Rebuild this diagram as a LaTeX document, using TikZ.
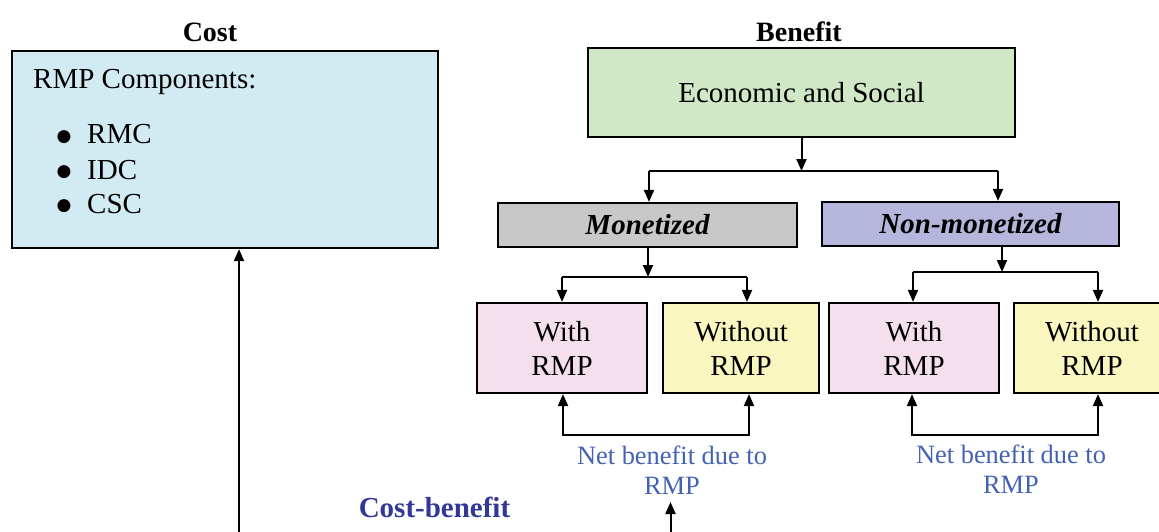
\documentclass[tikz,border=0pt]{standalone}
\usepackage{fontspec}
\setmainfont{Liberation Serif}
\newfontfamily\dejavu{DejaVu Sans}
\usetikzlibrary{arrows.meta}
\definecolor{costfill}{RGB}{210,234,241}
\definecolor{ecofill}{RGB}{208,232,198}
\definecolor{monfill}{RGB}{200,200,200}
\definecolor{nonfill}{RGB}{182,182,220}
\definecolor{withfill}{RGB}{245,223,236}
\definecolor{wofill}{RGB}{250,246,192}
\definecolor{nettext}{RGB}{68,98,178}
\definecolor{cbtext}{RGB}{51,56,150}
\tikzset{
  boxnode/.style={draw=black, line width=2.2pt, inner sep=0pt, align=center,
    font=\fontsize{29}{34}\selectfont},
  conn/.style={line width=2pt, -{Triangle[length=12pt,width=10pt]}},
  plain/.style={line width=2pt},
  bodytext/.style={inner sep=0pt, font=\fontsize{29}{34}\selectfont},
  bullettext/.style={inner sep=0pt, font=\dejavu\fontsize{17}{17}\selectfont},
  headtext/.style={inner sep=0pt, font=\fontsize{28}{32}\selectfont\bfseries},
  nettxt/.style={inner sep=0pt, align=center, text=nettext, font=\fontsize{26.4}{30}\selectfont}
}
\begin{document}
\begin{tikzpicture}[x=1pt,y=-1pt]
\useasboundingbox (0,0) rectangle (1159,532);
\clip (0,0) rectangle (1159,532);

% headings
\node[headtext, anchor=base] (costh) at (210,42) {Cost};
\node[headtext, anchor=base] (benh) at (799,42) {Benefit};

% cost box
\node[boxnode, fill=costfill, minimum width=426pt, minimum height=197pt] (cost) at (225,149.5) {};
\node[bodytext, anchor=base west] (comp) at (33,89) {RMP Components:};
\node[bullettext] (b1) at (64,137) {●};
\node[bullettext] (b2) at (64,172) {●};
\node[bullettext] (b3) at (64,206) {●};
\node[bodytext, anchor=base west] (rmc) at (87,144) {RMC};
\node[bodytext, anchor=base west] (idc) at (87,179) {IDC};
\node[bodytext, anchor=base west] (csc) at (87,213) {CSC};

% benefit tree
\node[boxnode, fill=ecofill, minimum width=427pt, minimum height=89pt] (eco) at (801.5,92.5) {Economic and Social};
\node[boxnode, fill=monfill, minimum width=299pt, minimum height=44pt, font=\fontsize{29}{34}\selectfont\bfseries\itshape] (mon) at (647.5,225) {Monetized};
\node[boxnode, fill=nonfill, minimum width=297pt, minimum height=44pt, font=\fontsize{29}{34}\selectfont\bfseries\itshape] (non) at (970.5,224) {Non-monetized};

\node[boxnode, fill=withfill, minimum width=170pt, minimum height=90pt] (withL) at (562,348) {With\\RMP};
\node[boxnode, fill=wofill, minimum width=156pt, minimum height=90pt] (woL) at (741,348) {Without\\RMP};
\node[boxnode, fill=withfill, minimum width=170pt, minimum height=90pt] (withR) at (914,348) {With\\RMP};
\node[boxnode, fill=wofill, minimum width=156pt, minimum height=90pt] (woR) at (1092,348) {Without\\RMP};

% junction coordinates
\coordinate (j1) at (801.5,171);
\coordinate (j1l) at (649,171);
\coordinate (j1r) at (998,171);
\coordinate (j2) at (648,277);
\coordinate (j2l) at (562,277);
\coordinate (j2r) at (747,277);
\coordinate (j3) at (1002,272);
\coordinate (j3l) at (913,272);
\coordinate (j3r) at (1098,272);
\coordinate (l1) at (563,435);
\coordinate (l2) at (749,435);
\coordinate (r1) at (912,435);
\coordinate (r2) at (1098,435);

\draw[conn] (eco.south) -- (j1);
\draw[plain] (j1l) -- (j1r);
\draw[conn] (j1l) -- (j1l |- mon.north);
\draw[conn] (j1r) -- (j1r |- non.north);

\draw[conn] (mon.south -| j2) -- (j2);
\draw[plain] (j2l) -- (j2r);
\draw[conn] (j2l) -- (j2l |- withL.north);
\draw[conn] (j2r) -- (j2r |- woL.north);

\draw[conn] (non.south -| j3) -- (j3);
\draw[plain] (j3l) -- (j3r);
\draw[conn] (j3l) -- (j3l |- withR.north);
\draw[conn] (j3r) -- (j3r |- woR.north);

\draw[conn] (l2) -- (l1) -- (l1 |- withL.south);
\draw[conn] (l1) -- (l2) -- (l2 |- woL.south);
\draw[conn] (r2) -- (r1) -- (r1 |- withR.south);
\draw[conn] (r1) -- (r2) -- (r2 |- woR.south);

% net benefit labels
\node[nettxt] (netL) at (672,470) {Net benefit due to\\RMP};
\node[nettxt] (netR) at (1011,469) {Net benefit due to\\RMP};

% cost-benefit
\node[inner sep=0pt, anchor=base, text=cbtext, font=\fontsize{29}{34}\selectfont\bfseries] (cb) at (434.5,517) {Cost-benefit};
\coordinate (cbot) at (239,532);
\coordinate (nbot) at (670.5,532);
\draw[conn] (cbot) -- (cbot |- cost.south);
\draw[conn] (nbot) -- (670.5,502);
\end{tikzpicture}
\end{document}
